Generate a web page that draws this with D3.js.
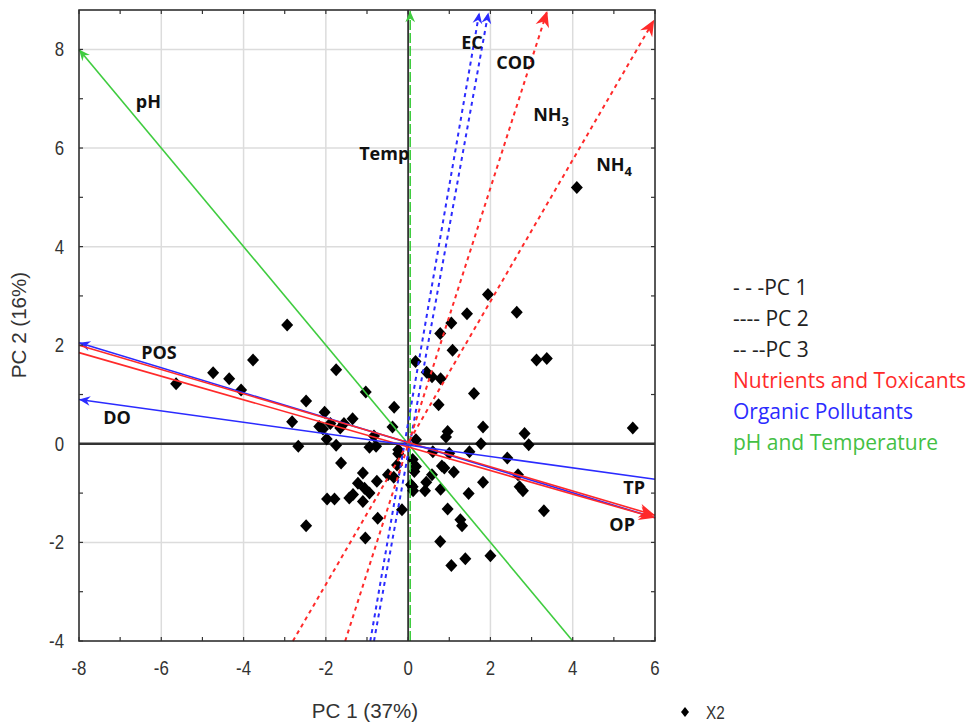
<!DOCTYPE html>
<html>
<head>
<meta charset="UTF-8">
<title>PCA biplot - PC1 vs PC2</title>
<script src="https://cdn.jsdelivr.net/npm/d3@7/dist/d3.min.js"></script>
<style>
  body { margin: 0; background: #fff; }
  .tick-label, .axis-title { font-family: "Liberation Sans Narrow", "Arial Narrow", "Liberation Sans", sans-serif; fill: #333; }
  .var-label { font-family: "Open Sans", "DejaVu Sans", sans-serif; font-weight: 700; font-size: 18px; fill: #111; }
  .legend { font-family: "Open Sans", "Lato", sans-serif; font-size: 21px; }
</style>
</head>
<body>
<svg id="chart" width="976" height="722"></svg>
<script>
// ---------------------------------------------------
// data
// ---------------------------------------------------
var xTicks = [-8, -6, -4, -2, 0, 2, 4, 6];
var yTicks = [-4, -2, 0, 2, 4, 6, 8];

// case scores (PC1, PC2)
var scores = [
  [-5.64, 1.22], [-4.74, 1.44], [-4.35, 1.32], [-4.06, 1.09], [-3.77, 1.70], [-2.94, 2.41],
  [-2.48, 0.87], [-1.75, 1.50], [-2.82, 0.45], [-2.67, -0.05], [-1.03, 1.05], [-2.03, 0.64],
  [-2.16, 0.35], [-2.07, 0.30], [-1.89, 0.41], [-1.65, 0.32], [-1.56, 0.41], [-1.35, 0.51],
  [-0.34, 0.74], [-0.38, 0.34], [-0.83, 0.16], [-1.98, 0.10], [-1.75, -0.03], [-0.94, -0.07],
  [-0.78, -0.05], [-0.24, -0.12], [-0.24, -0.20], [-1.63, -0.39], [-0.27, -0.43], [-1.10, -0.59],
  [-0.49, -0.63], [-0.35, -0.68], [-1.22, -0.80], [-0.76, -0.76], [-1.06, -0.90], [-0.94, -1.00],
  [-1.34, -1.03], [-1.43, -1.10], [-1.97, -1.12], [-1.79, -1.12], [-1.10, -1.17], [0.11, -0.87],
  [0.12, -0.95], [-0.15, -1.34], [-0.74, -1.51], [-2.48, -1.66], [-1.04, -1.91], [0.11, -0.32],
  [1.94, 3.03], [2.64, 2.67], [1.43, 2.64], [1.05, 2.45], [0.78, 2.24], [1.08, 1.90],
  [3.12, 1.70], [3.37, 1.73], [0.18, 1.67], [0.45, 1.45], [0.58, 1.36], [0.79, 1.32],
  [1.60, 1.02], [0.74, 0.79], [1.82, 0.34], [0.96, 0.25], [2.83, 0.21], [0.92, 0.14],
  [0.19, 0.08], [1.77, 0.00], [2.93, -0.02], [0.60, -0.16], [1.00, -0.19], [1.49, -0.16],
  [2.41, -0.29], [0.19, -0.46], [0.15, -0.56], [0.82, -0.45], [0.88, -0.49], [1.11, -0.57],
  [0.58, -0.63], [2.67, -0.63], [0.44, -0.78], [0.07, -0.83], [0.41, -0.95], [0.79, -0.92],
  [1.82, -0.78], [2.71, -0.87], [2.79, -0.95], [1.47, -1.01], [0.96, -1.32], [3.30, -1.36],
  [1.27, -1.54], [1.31, -1.66], [0.78, -1.98], [1.39, -2.33], [1.05, -2.47], [2.00, -2.27],
  [4.10, 5.20], [5.46, 0.32]
];

// loading vectors: tail -> tip (arrow head at tip)
var vectorGroups = ["ph", "ph", "org", "org", "nut", "nut", "org", "nut", "nut", "org"];
var vectorTails  = [[4, -4], [0.05, -4], [-0.92, -4], [-0.83, -4], [-1.53, -4], [-2.8, -4], [6, -1.5], [-8, 2.0], [-8, 1.85], [6, -0.72]];
var vectorTips   = [[-8, 8.0], [0.05, 8.78], [1.73, 8.75], [1.95, 8.75], [3.38, 8.78], [5.98, 8.6], [-8, 2.05], [6, -1.45], [6, -1.5], [-8, 0.9]];
var vectorKinds  = ["solid", "dashed", "dotted", "dotted", "dotted", "dotted", "solid", "solid", "solid", "solid"];

// variable names and where they sit
var varNames = ["pH", "Temp", "EC", "COD", "NH|3", "NH|4", "POS", "DO", "TP", "OP"];
var varPos   = [[-6.62, 6.81], [-1.19, 5.76], [1.29, 8.0], [2.14, 7.6], [3.04, 6.55], [4.57, 5.53], [-6.49, 1.72], [-7.41, 0.41], [5.23, -1.01], [4.89, -1.76]];

var legendText   = ["- - -PC 1", "---- PC 2", "-- --PC 3", "Nutrients and Toxicants", "Organic Pollutants", "pH and Temperature"];
var legendColors = ["#222", "#222", "#222", "#ff2a2a", "#2b2bff", "#44c044"];

// ---------------------------------------------------
// chart
// ---------------------------------------------------
var colors = { nut: "#ff2a2a", org: "#2b2bff", ph: "#3fcc3f" };

var svg = d3.select("#chart");
var x = d3.scaleLinear().domain([-8, 6]).range([79, 655]);
var y = d3.scaleLinear().domain([-4, 8.8]).range([641, 10]);

// arrow markers
var defs = svg.append("defs");
Object.keys(colors).forEach(function (k) {
  var big = k === "nut";
  defs.append("marker")
    .attr("id", "head-" + k)
    .attr("markerUnits", "userSpaceOnUse")
    .attr("viewBox", "-20 -10 22 20")
    .attr("refX", 0).attr("refY", 0)
    .attr("markerWidth", big ? 22 : 16).attr("markerHeight", big ? 20 : 14)
    .attr("orient", "auto")
    .append("path")
    .attr("d", "M0,0 L-16,-7 L-11,0 L-16,7 Z")
    .attr("fill", colors[k]);
});

defs.append("clipPath").attr("id", "plot-clip")
  .append("rect").attr("x", 79).attr("y", 10).attr("width", 576).attr("height", 631);

// grid
var grid = svg.append("g");
grid.selectAll(".gx").data(xTicks.slice(1, -1)).enter().append("line")
  .attr("x1", function (d) { return x(d); }).attr("x2", function (d) { return x(d); })
  .attr("y1", y(-4)).attr("y2", y(8.8))
  .attr("stroke", "#dcdcdc").attr("stroke-width", 1.5);
grid.selectAll(".gy").data(yTicks.slice(1)).enter().append("line")
  .attr("y1", function (d) { return y(d); }).attr("y2", function (d) { return y(d); })
  .attr("x1", x(-8)).attr("x2", x(6))
  .attr("stroke", "#dcdcdc").attr("stroke-width", 1.5);

// zero lines
svg.append("line").attr("x1", x(-8)).attr("x2", x(6)).attr("y1", y(0)).attr("y2", y(0))
  .attr("stroke", "#333").attr("stroke-width", 2.5);
svg.append("line").attr("x1", x(0)).attr("x2", x(0)).attr("y1", y(-4)).attr("y2", y(8.8))
  .attr("stroke", "#333").attr("stroke-width", 1.8);

// scores
var plot = svg.append("g").attr("clip-path", "url(#plot-clip)");
plot.selectAll(".pt").data(scores).enter().append("path")
  .attr("d", "M0,-6.5 L6,0 L0,6.5 L-6,0 Z")
  .attr("transform", function (d) { return "translate(" + x(d[0]) + "," + y(d[1]) + ")"; })
  .attr("fill", "#000");

// vectors
var vectors = vectorTails.map(function (t, i) {
  return { tail: t, tip: vectorTips[i], group: vectorGroups[i], kind: vectorKinds[i] };
});
svg.append("g").selectAll("line").data(vectors).enter().append("line")
  .attr("x1", function (d) { return x(d.tail[0]); })
  .attr("y1", function (d) { return y(d.tail[1]); })
  .attr("x2", function (d) { return x(d.tip[0]); })
  .attr("y2", function (d) { return y(d.tip[1]); })
  .attr("stroke", function (d) { return colors[d.group]; })
  .attr("stroke-width", function (d) { return d.kind === "dotted" ? 2 : 1.6; })
  .attr("stroke-dasharray", function (d) {
    if (d.kind === "dashed") return "10,3";
    if (d.kind === "dotted") return "4,4";
    return null;
  })
  .attr("marker-end", function (d) { return "url(#head-" + d.group + ")"; });

// frame
svg.append("rect").attr("x", 79).attr("y", 10).attr("width", 576).attr("height", 631)
  .attr("fill", "none").attr("stroke", "#222").attr("stroke-width", 1.5);

// inner ticks every unit on all four sides
var xMinor = d3.range(-8, 7, 1), yMinor = d3.range(-4, 9, 1);
var ticks = svg.append("g").attr("stroke", "#333").attr("stroke-width", 1.2);
xMinor.forEach(function (v) {
  ticks.append("line").attr("x1", x(v)).attr("x2", x(v)).attr("y1", y(-4)).attr("y2", y(-4) - 4);
  ticks.append("line").attr("x1", x(v)).attr("x2", x(v)).attr("y1", y(8.8)).attr("y2", y(8.8) + 4);
});
yMinor.forEach(function (v) {
  ticks.append("line").attr("y1", y(v)).attr("y2", y(v)).attr("x1", x(-8)).attr("x2", x(-8) + 4);
  ticks.append("line").attr("y1", y(v)).attr("y2", y(v)).attr("x1", x(6)).attr("x2", x(6) - 4);
});

// tick labels (condensed look)
svg.append("g").selectAll("text").data(xTicks).enter().append("text")
  .attr("class", "tick-label")
  .attr("transform", function (d) { return "translate(" + x(d) + ",675) scale(0.8,1)"; })
  .attr("text-anchor", "middle").attr("font-size", 21)
  .text(function (d) { return d; });
svg.append("g").selectAll("text").data(yTicks).enter().append("text")
  .attr("class", "tick-label")
  .attr("transform", function (d) { return "translate(64," + (y(d) + 7) + ") scale(0.8,1)"; })
  .attr("text-anchor", "end").attr("font-size", 21)
  .text(function (d) { return d; });

// axis titles
svg.append("text").attr("class", "axis-title").attr("font-size", 21)
  .attr("transform", "translate(365,718) scale(0.98,1)").attr("text-anchor", "middle").text("PC 1 (37%)");
svg.append("text").attr("class", "axis-title").attr("font-size", 21)
  .attr("transform", "translate(26,325) rotate(-90) scale(0.98,1)").attr("text-anchor", "middle").text("PC 2 (16%)");

// variable labels
varNames.forEach(function (n, i) {
  var parts = n.split("|");
  var t = svg.append("text").attr("class", "var-label")
    .attr("x", x(varPos[i][0])).attr("y", y(varPos[i][1]));
  t.append("tspan").text(parts[0]);
  if (parts[1]) t.append("tspan").attr("font-size", 13).attr("dy", 5).text(parts[1]);
});

// legend
svg.append("g").selectAll("text").data(legendText).enter().append("text")
  .attr("class", "legend")
  .attr("x", 733).attr("y", function (d, i) { return 295 + i * 31; })
  .attr("fill", function (d, i) { return legendColors[i]; })
  .text(function (d) { return d; });

// X2 marker legend
svg.append("path").attr("d", "M0,-5 L4,0 L0,5 L-4,0 Z")
  .attr("transform", "translate(685,712)").attr("fill", "#000");
svg.append("text").attr("class", "tick-label").attr("font-size", 18)
  .attr("transform", "translate(706,719) scale(0.85,1)").text("X2");
</script>
</body>
</html>
